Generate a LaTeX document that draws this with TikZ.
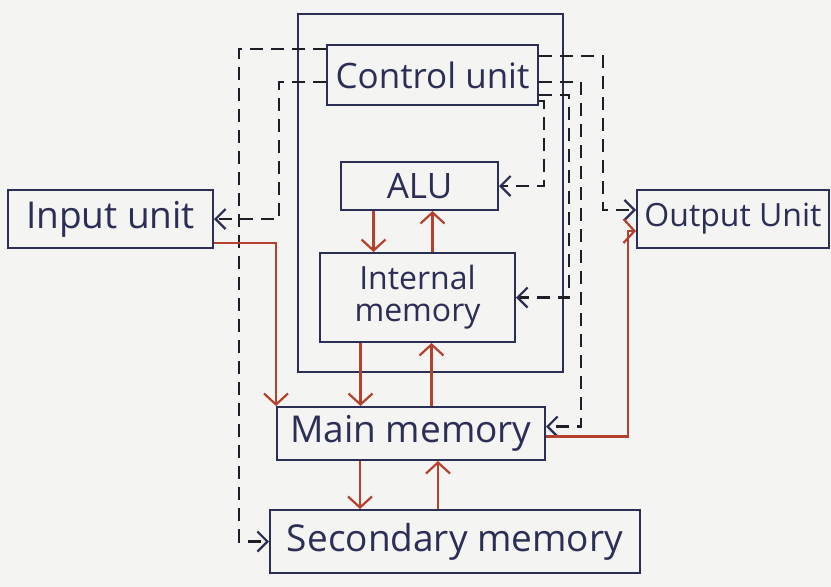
\documentclass[tikz,border=0pt]{standalone}
\usepackage{fontspec}
\setmainfont{Open Sans}
\usepackage{tikz}
\usetikzlibrary{arrows.meta,positioning,calc}
\definecolor{ink}{HTML}{2B2E55}
\definecolor{pencil}{HTML}{1E1E28}
\definecolor{redink}{HTML}{B4412E}
\definecolor{paper}{HTML}{F4F4F2}
\tikzset{
  unitbox/.style={
    rectangle, draw=ink, line width=2pt, text=ink,
    font=\fontsize{#1}{#1}\selectfont, align=center,
    inner sep=2pt
  },
  unitbox/.default=35,
  cpubox/.style={rectangle, draw=ink, line width=2pt},
  ctrlline/.style={
    pencil, line width=2.6pt, dash pattern=on 13pt off 8pt,
    -{Straight Barb[length=10pt,width=20pt,line width=2.2pt,color=ink]}
  },
  dataline/.style={
    redink, line width=2.2pt,
    -{Straight Barb[length=11pt,width=24pt,line width=2.2pt]}
  },
}

\begin{document}
\begin{tikzpicture}[x=1pt, y=-1pt]
  \fill[paper] (0,0) rectangle (831,587);
  \useasboundingbox (0,0) rectangle (831,587);
  \node[cpubox, minimum width=265pt, minimum height=358pt] (cpu) at (430.5,193) {};
  \node[unitbox, minimum width=211pt, minimum height=60pt] (ctrl) at (432.5,75) {Control unit};
  \node[unitbox, minimum width=157pt, minimum height=48pt] (alu) at (419.5,186) {ALU};
  \node[unitbox=32, minimum width=195pt, minimum height=89pt] (imem) at (417.5,297.5) {Internal\\memory};
  \node[unitbox=37, minimum width=205pt, minimum height=58pt] (input) at (110.5,219) {Input unit};
  \node[unitbox=32, minimum width=192pt, minimum height=58pt] (output) at (733,219) {Output Unit};
  \node[unitbox=37, minimum width=268pt, minimum height=53pt] (mainm) at (411,433.5) {Main memory};
  \node[unitbox=37, minimum width=370pt, minimum height=63pt] (secm) at (455,541.5) {Secondary memory};
  \draw[ctrlline] ([yshift=-5pt]ctrl.north west) -- ++(-87pt,0) |- (secm.west);
  \draw[ctrlline] ([yshift=-7pt]ctrl.west) -- ++(-47pt,0) |- (input.east);
  \draw[ctrlline] ([yshift=-12pt]ctrl.north east) -- ++(64pt,0) |- ([yshift=9pt]output.west);
  \draw[ctrlline] ([yshift=-7pt]ctrl.east) -- ++(42pt,0) |- ([yshift=7pt]mainm.east);
  \draw[ctrlline] ([yshift=-20pt]ctrl.east) -- ++(30pt,0) |- (imem.east);
  \draw[ctrlline] ([yshift=5pt]ctrl.south east) -- ++(5pt,0) |- (alu.east);
  \draw[dataline] ([yshift=6pt]input.south east) -| (mainm.north west);
  \draw[dataline] ([yshift=-3pt]mainm.east) -- ++(82pt,0) |- ([yshift=-12pt]output.west);
  \draw[dataline] ([xshift=-46pt]alu.south) -- ([xshift=-46pt]alu.south |- imem.north);
  \draw[dataline] ([xshift=13pt]alu.south |- imem.north) -- ([xshift=13pt]alu.south);
  \draw[dataline] ([xshift=-57pt]imem.south) -- ([xshift=-57pt]imem.south |- mainm.north);
  \draw[dataline] ([xshift=14pt]imem.south |- mainm.north) -- ([xshift=14pt]imem.south);
  \draw[dataline] ([xshift=-51pt]mainm.south) -- ([xshift=-51pt]mainm.south |- secm.north);
  \draw[dataline] ([xshift=27pt]mainm.south |- secm.north) -- ([xshift=27pt]mainm.south);
\end{tikzpicture}
\end{document}
